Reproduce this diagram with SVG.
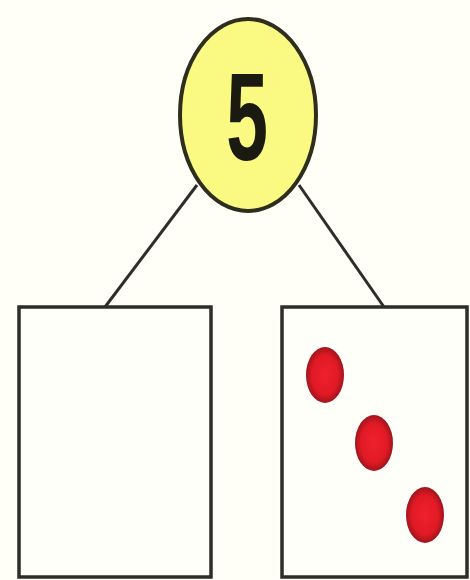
<svg xmlns="http://www.w3.org/2000/svg" width="470" height="580" viewBox="0 0 470 580">
<defs>
<radialGradient id="dot" cx="50%" cy="50%" r="50%">
<stop offset="0" stop-color="#f02030"/>
<stop offset="0.7" stop-color="#e01a24"/>
<stop offset="1" stop-color="#a0141e"/>
</radialGradient>
</defs>
<style>
.box{fill:#fffffa;stroke:#2e2e28;stroke-width:3.5}
.link{stroke:#2e2e28;stroke-width:3;fill:none}
.dot{fill:url(#dot)}
</style>
<rect width="470" height="580" fill="#fffff8"/>
<g id="connectors">
<line class="link" x1="197" y1="185" x2="105" y2="307"/>
<line class="link" x1="299" y1="185" x2="384" y2="307"/>
</g>
<g id="whole">
<ellipse cx="248" cy="115" rx="68" ry="96" fill="#fafa82" stroke="#2e2e1e" stroke-width="4"/>
<text x="0" y="0" transform="translate(247,160) scale(0.6,1)" text-anchor="middle" font-family="Liberation Sans, Arial, sans-serif" font-weight="bold" font-size="125" fill="#1a1a10">5</text>
</g>
<g id="part-left">
<rect class="box" x="19" y="307" width="192" height="270"/>
</g>
<g id="part-right">
<rect class="box" x="282" y="307" width="185" height="270"/>
<ellipse class="dot" cx="325" cy="375" rx="19" ry="28"/>
<ellipse class="dot" cx="374" cy="443" rx="19" ry="28"/>
<ellipse class="dot" cx="425" cy="515" rx="19" ry="28"/>
</g>
</svg>
